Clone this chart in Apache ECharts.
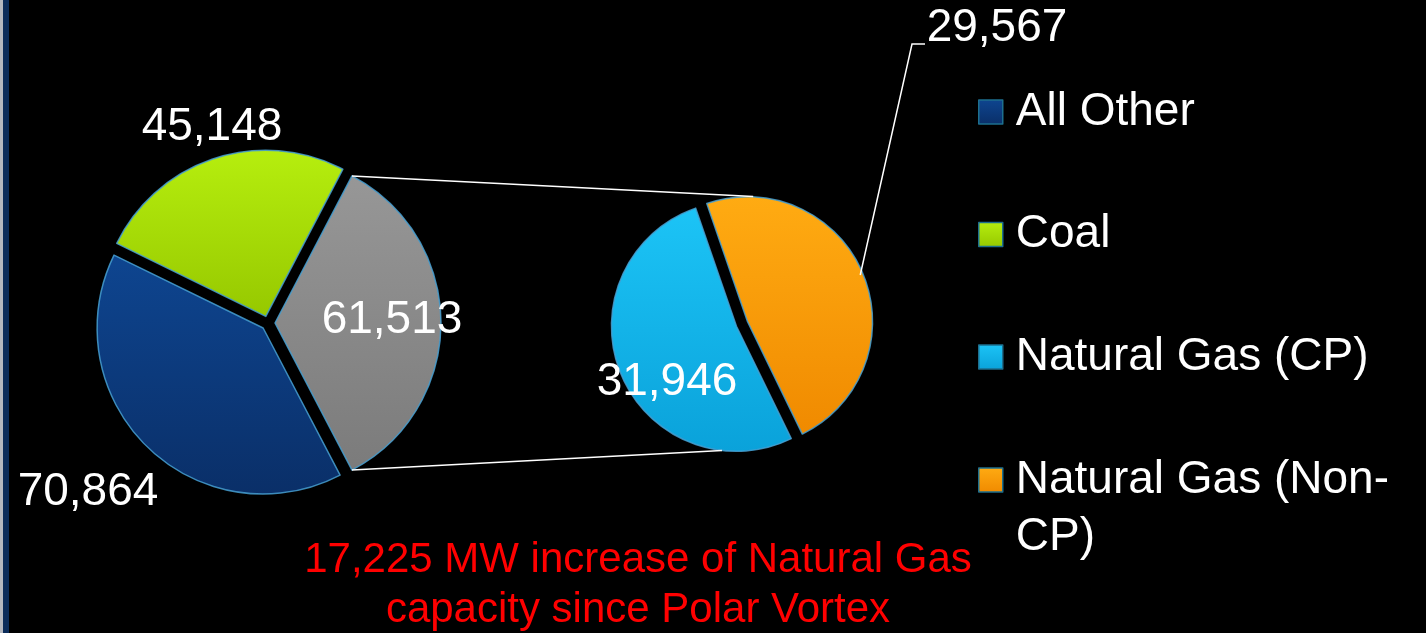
<!DOCTYPE html>
<html>
<head>
<meta charset="utf-8">
<script src="https://cdn.jsdelivr.net/npm/echarts@6/dist/echarts.min.js"></script>
<style>
html,body{margin:0;padding:0;background:#000;}
#chart{width:1426px;height:633px;}
</style>
</head>
<body>
<div id="chart"></div>
<script>
// ---- data ----
const mainCategories = ['All Other', 'Coal', 'Natural Gas'];
const mainValues = [70864, 45148, 61513];
const subCategories = ['Natural Gas (CP)', 'Natural Gas (Non-CP)'];
const subValues = [31946, 29567];
const legendNames = ['All Other', 'Coal', 'Natural Gas (CP)', 'Natural Gas (Non-CP)'];
const noteLines = ['17,225 MW increase of Natural Gas', 'capacity since Polar Vortex'];

// ---- layout / style ----
const FONT = "'Liberation Sans', Arial, Helvetica, sans-serif";
const mainCenter = [268, 323], mainR = 166, mainOff = 7;
const subCenter = [742, 324], subR = 125, subOff = 6, subStart = 296;
const mainLabelPos = [[88, 492], [212, 127], [392, 320]];
const subLabelPos = [[667, 382], [997, 28]];
const leaderBend = [[912, 44], [925, 44]];
const connectorSubAngles = [85, -99];

function grad(top, bottom) {
  return { type: 'linear', x: 0, y: 0, x2: 0, y2: 1,
    colorStops: [{ offset: 0, color: top }, { offset: 1, color: bottom }] };
}
const colors = {
  'All Other': grad('#0e4590', '#0a2f68'),
  'Coal': grad('#b6ee0e', '#96c800'),
  'Natural Gas': grad('#979797', '#7b7b7b'),
  'Natural Gas (CP)': grad('#1cc4f6', '#0aa2da'),
  'Natural Gas (Non-CP)': grad('#ffab12', '#f08a00')
};
const border = { borderColor: 'rgba(70,160,210,0.85)', borderWidth: 1.5 };

const total = mainValues.reduce((a, b) => a + b, 0);
const gasDeg = 360 * mainValues[2] / total;
const mainStart = 360 - gasDeg / 2;

const fmt = v => v.toLocaleString('en-US');
const rad = d => d * Math.PI / 180;

// geometry of the gas slice corners (for connector lines)
const gasCornerTop = [mainCenter[0] + mainOff + mainR * Math.cos(rad(gasDeg / 2)),
                      mainCenter[1] - mainR * Math.sin(rad(gasDeg / 2))];
const gasCornerBot = [mainCenter[0] + mainOff + mainR * Math.cos(rad(gasDeg / 2)),
                      mainCenter[1] + mainR * Math.sin(rad(gasDeg / 2))];
const subPt = a => [subCenter[0] + (subR + 3) * Math.cos(rad(a)), subCenter[1] - (subR + 3) * Math.sin(rad(a))];

// mid-angle of Non-CP slice (clockwise from subStart)
const subTotal = subValues[0] + subValues[1];
const cpDeg = 360 * subValues[0] / subTotal;
const nonCpMid = subStart - cpDeg - (360 - cpDeg) / 2;
const leaderStart = [subCenter[0] + (subR + subOff - 3) * Math.cos(rad(nonCpMid)),
                     subCenter[1] - (subR + subOff - 3) * Math.sin(rad(nonCpMid))];

const valueText = (v, p) => ({ type: 'text', silent: true, z: 100,
  style: { x: p[0], y: p[1], text: fmt(v), fill: '#fff', font: '46px ' + FONT, textAlign: 'center', textVerticalAlign: 'middle' } });

const chart = echarts.init(document.getElementById('chart'));
chart.setOption({
  backgroundColor: '#000',
  animation: false,
  legend: [{
    orient: 'vertical', left: 978, top: 83.5, padding: 0,
    itemWidth: 24, itemHeight: 24, itemGap: 65.5, icon: 'rect',
    selectedMode: false,
    data: legendNames.slice(0, 3),
    itemStyle: { borderColor: '#1d6f8e', borderWidth: 1.5 },
    textStyle: { color: '#fff', fontSize: 46, fontFamily: FONT, lineHeight: 57, padding: [0, 0, 0, 8] }
  }, {
    orient: 'vertical', left: 978, top: 394.5, padding: 0,
    itemWidth: 24, itemHeight: 24, icon: 'rect',
    selectedMode: false,
    data: legendNames.slice(3),
    formatter: () => '\nNatural Gas (Non-\nCP)',
    itemStyle: { borderColor: '#1d6f8e', borderWidth: 1.5 },
    textStyle: { color: '#fff', fontSize: 46, fontFamily: FONT, lineHeight: 57, padding: [0, 0, 0, 8] }
  }],
  graphic: [
    { type: 'rect', z: 100, shape: { x: 0, y: 0, width: 3, height: 633 }, style: { fill: '#b4b8c0' } },
    { type: 'rect', z: 100, shape: { x: 3, y: 0, width: 6, height: 633 }, style: { fill: '#0b2c5a' } },
    { type: 'line', z: 100, shape: { x1: gasCornerTop[0], y1: gasCornerTop[1], x2: subPt(connectorSubAngles[0])[0], y2: subPt(connectorSubAngles[0])[1] },
      style: { stroke: '#fff', lineWidth: 1.5 } },
    { type: 'line', z: 100, shape: { x1: gasCornerBot[0], y1: gasCornerBot[1], x2: subPt(connectorSubAngles[1])[0], y2: subPt(connectorSubAngles[1])[1] },
      style: { stroke: '#fff', lineWidth: 1.5 } },
    { type: 'polyline', z: 100, shape: { points: [leaderStart, leaderBend[0], leaderBend[1]] },
      style: { stroke: '#fff', lineWidth: 1.5, fill: null } },
    valueText(mainValues[0], mainLabelPos[0]),
    valueText(mainValues[1], mainLabelPos[1]),
    valueText(mainValues[2], mainLabelPos[2]),
    valueText(subValues[0], subLabelPos[0]),
    valueText(subValues[1], subLabelPos[1]),
    { type: 'text', z: 100, style: { x: 638, y: 560, text: noteLines[0], fill: '#ff0000', font: '42px ' + FONT, textAlign: 'center', textVerticalAlign: 'middle' } },
    { type: 'text', z: 100, style: { x: 638, y: 610, text: noteLines[1], fill: '#ff0000', font: '42px ' + FONT, textAlign: 'center', textVerticalAlign: 'middle' } }
  ],
  series: [{
    type: 'pie',
    center: mainCenter, radius: mainR,
    startAngle: mainStart, clockwise: true,
    selectedMode: 'multiple', selectedOffset: mainOff,
    avoidLabelOverlap: false,
    emphasis: { disabled: true },
    label: { show: false },
    labelLine: { show: false },
    data: mainCategories.map((n, i) => ({ name: n, value: mainValues[i], selected: true,
      itemStyle: Object.assign({ color: colors[n] }, border) }))
  }, {
    type: 'pie',
    center: subCenter, radius: subR,
    startAngle: subStart, clockwise: true,
    selectedMode: 'multiple', selectedOffset: subOff,
    avoidLabelOverlap: false,
    emphasis: { disabled: true },
    label: { show: false },
    labelLine: { show: false },
    data: subCategories.map((n, i) => ({ name: n, value: subValues[i], selected: true,
      itemStyle: Object.assign({ color: colors[n] }, border) }))
  }]
});
</script>
</body>
</html>
